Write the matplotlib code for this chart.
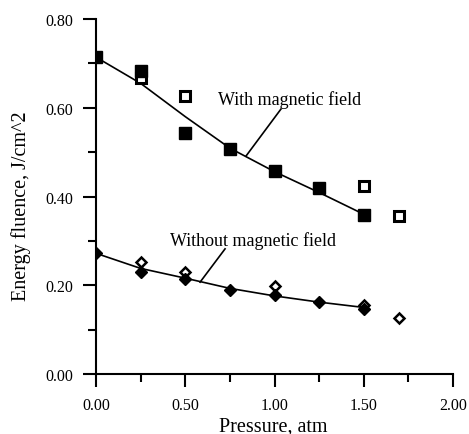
import numpy as np
import matplotlib
matplotlib.use('Agg')
import matplotlib.pyplot as plt
from matplotlib.ticker import MultipleLocator, FormatStrFormatter

plt.rcParams['font.family'] = ['Liberation Serif', 'DejaVu Serif']

# with magnetic field
p_with = [0.0, 0.25, 0.50, 0.75, 1.00, 1.25, 1.50]
e_with = [0.714, 0.682, 0.543, 0.507, 0.458, 0.420, 0.359]
p_with_open = [0.25, 0.50, 1.50, 1.70]
e_with_open = [0.668, 0.626, 0.424, 0.356]
fit_with = [0.714, 0.655, 0.580, 0.509, 0.456, 0.409, 0.360]

# without magnetic field
p_wo = [0.0, 0.25, 0.50, 0.75, 1.00, 1.25, 1.50]
e_wo = [0.273, 0.231, 0.214, 0.190, 0.177, 0.162, 0.147]
p_wo_open = [0.25, 0.50, 1.00, 1.50, 1.70]
e_wo_open = [0.253, 0.231, 0.199, 0.155, 0.126]
fit_wo = [0.272, 0.238, 0.216, 0.193, 0.176, 0.162, 0.150]

fig = plt.figure(figsize=(4.69, 4.35), dpi=100)
ax = fig.add_axes([0.2047, 0.1379, 0.7612, 0.8161])

ax.plot(p_with, fit_with, color='black', lw=1.2, zorder=2)
ax.plot(p_wo, fit_wo, color='black', lw=1.2, zorder=2)

ax.plot(p_with_open, e_with_open, 's', ms=6.5, mfc='white', mec='black', mew=2.2, zorder=3)
ax.plot(p_with, e_with, 's', ms=8.6, color='black', zorder=4)
ax.plot(p_wo_open, e_wo_open, 'D', ms=4.8, mfc='white', mec='black', mew=1.8, zorder=3)
ax.plot(p_wo, e_wo, 'D', ms=6.2, color='black', zorder=4)

# labels and leader lines
ax.text(1.087, 0.62, 'With magnetic field', fontsize=13, ha='center', va='center')
ax.plot([1.036, 0.840], [0.597, 0.491], color='black', lw=1.2)
ax.text(0.877, 0.302, 'Without magnetic field', fontsize=13, ha='center', va='center')
ax.plot([0.723, 0.583], [0.282, 0.207], color='black', lw=1.2)

ax.set_xlim(0, 2.0)
ax.set_ylim(0, 0.8)
ax.spines['top'].set_visible(False)
ax.spines['right'].set_visible(False)
for s in ['left', 'bottom']:
    ax.spines[s].set_linewidth(1.5)

ax.xaxis.set_major_locator(MultipleLocator(0.5))
ax.xaxis.set_minor_locator(MultipleLocator(0.25))
ax.yaxis.set_major_locator(MultipleLocator(0.2))
ax.yaxis.set_minor_locator(MultipleLocator(0.1))
ax.xaxis.set_major_formatter(FormatStrFormatter('%.2f'))
ax.yaxis.set_major_formatter(FormatStrFormatter('%.2f'))
ax.tick_params(which='major', direction='out', length=9.5, width=1.5, labelsize=11.5, pad=7)
ax.tick_params(which='minor', direction='out', length=5.5, width=1.5)

ax.set_xlabel('Pressure, atm', fontsize=14.5, va='center')
ax.xaxis.set_label_coords(0.497, -0.146)
ax.set_ylabel('Energy fluence, J/cm^2', fontsize=14.5, va='center')
ax.yaxis.set_label_coords(-0.21, 0.476)

fig.savefig('out.png', dpi=100)
